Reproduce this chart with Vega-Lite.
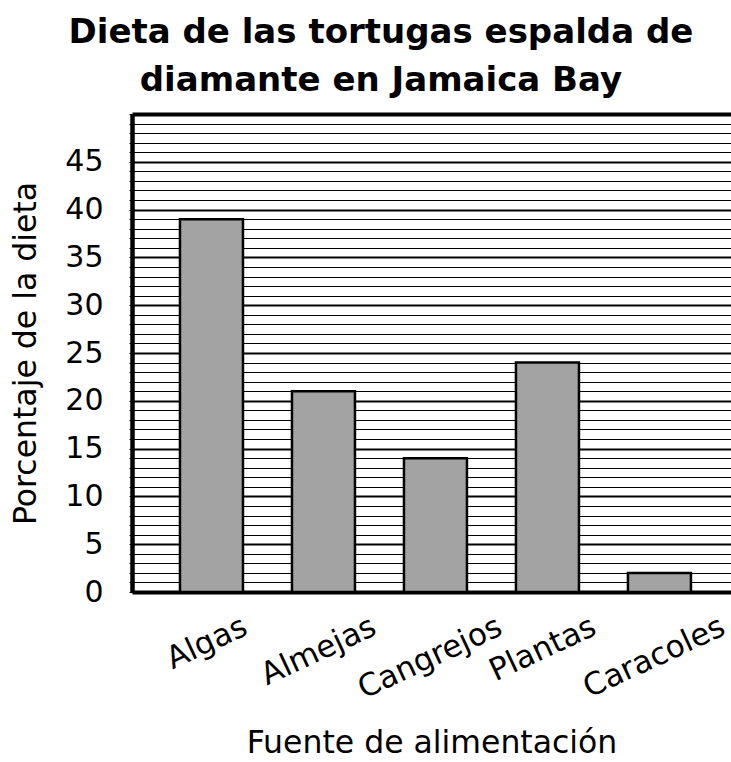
{
  "$schema": "https://vega.github.io/schema/vega-lite/v6.json",
  "width": 599,
  "height": 478,
  "padding": {"left": 10, "top": 15, "right": 0, "bottom": 0},
  "title": {
    "text": ["Dieta de las tortugas espalda de", "diamante en Jamaica Bay"],
    "font": "DejaVu Sans",
    "fontSize": 34,
    "fontWeight": "bold",
    "color": "black",
    "anchor": "middle",
    "frame": "bounds",
    "dx": 10,
    "lineHeight": 48,
    "offset": 16
  },
  "config": {
    "view": {"stroke": null},
    "font": "DejaVu Sans"
  },
  "data": {
    "values": [
      {"fuente": "Algas", "pct": 39},
      {"fuente": "Almejas", "pct": 21},
      {"fuente": "Cangrejos", "pct": 14},
      {"fuente": "Plantas", "pct": 24},
      {"fuente": "Caracoles", "pct": 2}
    ]
  },
  "mark": {"type": "bar", "color": "#a3a3a3", "stroke": "black", "strokeWidth": 2.5},
  "encoding": {
    "x": {
      "field": "fuente",
      "type": "nominal",
      "sort": null,
      "scale": {"paddingInner": 0.4375, "paddingOuter": 0.393, "align": 0.545},
      "axis": {
        "title": "Fuente de alimentación",
        "titleFont": "DejaVu Sans",
        "titleFontSize": 31.5,
        "titleFontWeight": "normal",
        "titleColor": "black",
        "titlePadding": 23,
        "labelFont": "DejaVu Sans",
        "labelFontSize": 31,
        "labelColor": "black",
        "labelAngle": -25,
        "labelAlign": "right",
        "labelBaseline": "middle",
        "labelOffset": {"condition": [
          {"test": "datum.label === 'Algas'", "value": 34},
          {"test": "datum.label === 'Almejas'", "value": 51},
          {"test": "datum.label === 'Cangrejos'", "value": 65},
          {"test": "datum.label === 'Plantas'", "value": 47}
        ], "value": 64},
        "labelPadding": 33,
        "ticks": false,
        "domain": true,
        "domainColor": "black",
        "domainWidth": 4,
        "grid": false
      }
    },
    "y": {
      "field": "pct",
      "type": "quantitative",
      "scale": {"domain": [0, 50], "nice": false},
      "axis": {
        "title": "Porcentaje de la dieta",
        "titleFont": "DejaVu Sans",
        "titleFontSize": 31.5,
        "titleFontWeight": "normal",
        "titleColor": "black",
        "titlePadding": 22,
        "values": [0,1,2,3,4,5,6,7,8,9,10,11,12,13,14,15,16,17,18,19,20,21,22,23,24,25,26,27,28,29,30,31,32,33,34,35,36,37,38,39,40,41,42,43,44,45,46,47,48,49,50],
        "labelExpr": "datum.value % 5 === 0 && datum.value < 50 ? datum.label : ''",
        "labelFont": "DejaVu Sans",
        "labelFontSize": 30,
        "labelColor": "black",
        "labelPadding": 26,
        "tickSize": 3,
        "tickColor": "black",
        "tickWidth": 1,
        "domain": true,
        "domainColor": "black",
        "domainWidth": 4.5,
        "grid": true,
        "gridColor": "black",
        "gridOpacity": 1,
        "gridWidth": {"condition": [
          {"test": "datum.value === 50", "value": 4},
          {"test": "datum.value % 5 === 0", "value": 2}
        ], "value": 1}
      }
    }
  }
}
